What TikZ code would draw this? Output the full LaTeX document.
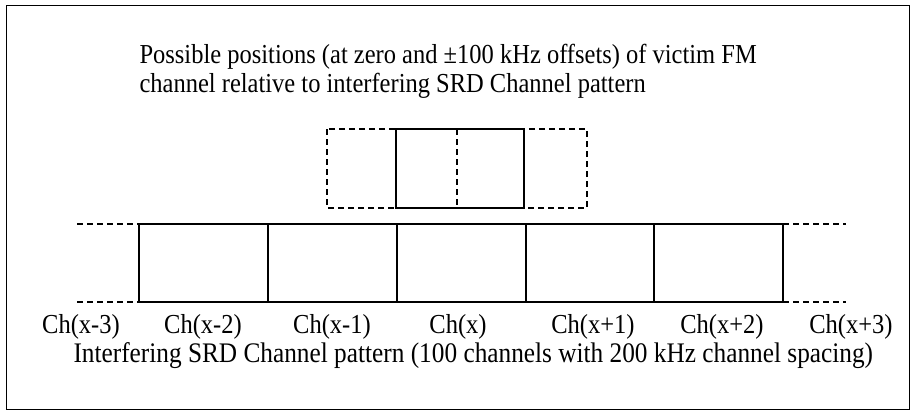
\documentclass[tikz,border=0pt]{standalone}
\usepackage{fontspec}
\usepackage{graphicx}
\setmainfont{Liberation Serif}
\newcommand{\tall}[1]{\scalebox{1}[1.12]{#1}}

\begin{document}
\begin{tikzpicture}[x=1pt,y=-1pt,line width=1.1pt,
  lbl/.style={font=\fontsize{24.5}{29}\selectfont,inner sep=0pt},
  dsh/.style={dash pattern=on 6pt off 4pt}]
\useasboundingbox (0,0) rectangle (911,410);
\def\yt{224}
\def\yb{302}
\draw[line width=1pt] (6,5) rectangle (909,409);
% victim positions
\draw[dsh] (327,129) rectangle (587,208);
\draw[dsh] (457,129) -- (457,208);
\draw (396,129) rectangle (524,208);
% SRD channels
\foreach \xa/\xb in {139/268,268/397,397/526,526/654,654/783}
  \draw (\xa,\yt) rectangle (\xb,\yb);
\draw[dsh] (77,\yt) -- (139,\yt);
\draw[dsh] (77,\yb) -- (139,\yb);
\draw[dsh] (783,\yt) -- (846,\yt);
\draw[dsh] (783,\yb) -- (846,\yb);
\foreach \t/\x [count=\i] in {x-3/81,x-2/203,x-1/332,x/458,x+1/593,x+2/722,x+3/851}
  \node[lbl,anchor=base] (ch\i) at (\x,333) {\tall{Ch(\t)}};
\node[lbl,anchor=base west,font=\fontsize{25.3}{29}\selectfont] (pattern) at (73,362) {\tall{Interfering SRD Channel pattern (100 channels with 200 kHz channel spacing)}};
\node[lbl,anchor=base west] (victim) at (139,63) {\tall{Possible positions (at zero and ±100 kHz offsets) of victim FM}};
\node[lbl,anchor=base west] (victim2) at (139,92) {\tall{channel relative to interfering SRD Channel pattern}};
\end{tikzpicture}
\end{document}
